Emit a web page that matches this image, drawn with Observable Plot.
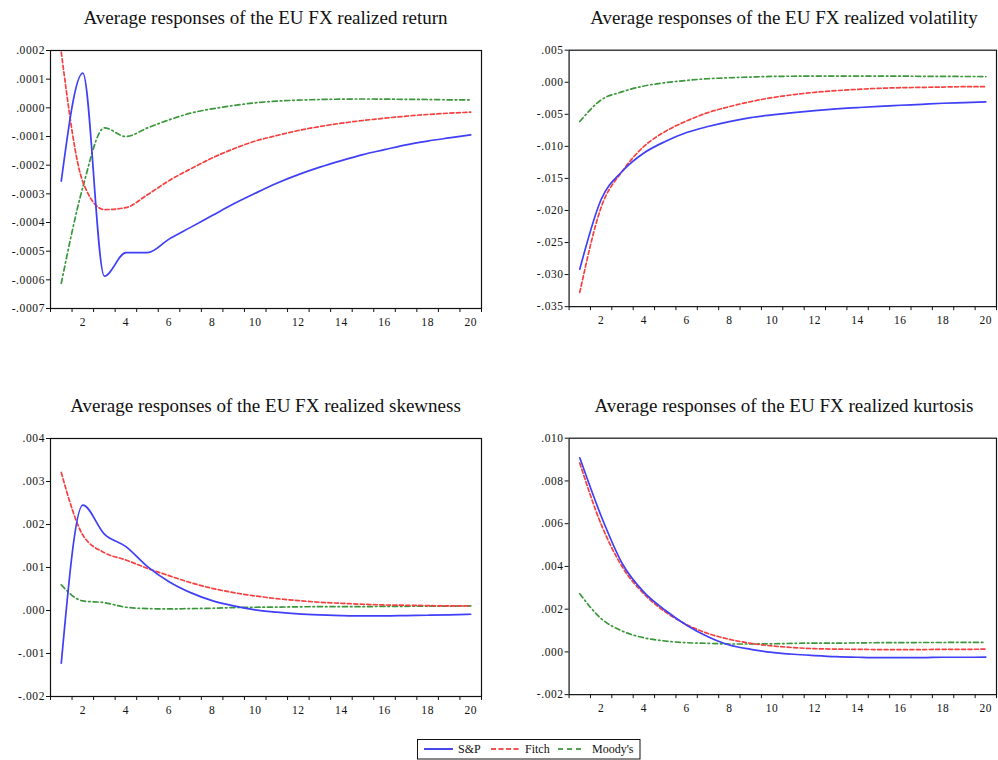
<!DOCTYPE html>
<html>
<head>
<meta charset="utf-8">
<script src="https://cdn.jsdelivr.net/npm/d3@7"></script>
<script src="https://cdn.jsdelivr.net/npm/@observablehq/plot@0.6"></script>
<style>
  html, body { margin: 0; padding: 0; background: #fff; }
  body { width: 998px; height: 760px; overflow: hidden; position: relative; font-family: "Liberation Serif", "Times New Roman", serif; }
  .panel { position: absolute; }
  .title { position: absolute; text-align: center; font-size: 19px; line-height: 19px; color: #111; white-space: nowrap; }
  #legend { position: absolute; }
</style>
</head>
<body>
<script>
// ---- data ----
const horizon = [1,2,3,4,5,6,7,8,9,10,11,12,13,14,15,16,17,18,19,20];
const agencies = ["S&P", "Fitch", "Moody's"];

const retSP    = [-0.000256, 0.000121, -0.000587, -0.000505, -0.000505, -0.000458, -0.000417, -0.000376, -0.000335, -0.000298, -0.000263, -0.000233, -0.000207, -0.000184, -0.000163, -0.000146, -0.000129, -0.000116, -0.000105, -0.0000943];
const retFitch = [0.000194, -0.000258, -0.000355, -0.000348, -0.000303, -0.000254, -0.000213, -0.000175, -0.000143, -0.000116, -0.0000966, -0.0000792, -0.0000652, -0.0000536, -0.0000442, -0.0000361, -0.0000291, -0.0000233, -0.0000186, -0.0000151];
const retMoody = [-0.000612, -0.000277, -0.000070, -0.000100, -0.000070, -0.000042, -0.0000186, -0.0000035, 0.0000081, 0.0000175, 0.0000233, 0.0000268, 0.0000291, 0.0000303, 0.0000309, 0.0000303, 0.0000297, 0.0000291, 0.0000280, 0.0000280];

const volSP    = [-0.02916, -0.01829, -0.01385, -0.01104, -0.00923, -0.00784, -0.00690, -0.00613, -0.00551, -0.00509, -0.00473, -0.00442, -0.00416, -0.00395, -0.00375, -0.00359, -0.00344, -0.00328, -0.00318, -0.00307];
const volFitch = [-0.03278, -0.01950, -0.01385, -0.01001, -0.00768, -0.00603, -0.00473, -0.00380, -0.00302, -0.00240, -0.00194, -0.00157, -0.00131, -0.00111, -0.00095, -0.00085, -0.00080, -0.00075, -0.00069, -0.00069];
const volMoody = [-0.00613, -0.00276, -0.00147, -0.00059, -0.00007, 0.00029, 0.00055, 0.00070, 0.00081, 0.00091, 0.00094, 0.00096, 0.00097, 0.00097, 0.00096, 0.00095, 0.00093, 0.00091, 0.00090, 0.00089];

const skSP    = [-0.001225, 0.00245, 0.001778, 0.001484, 0.00102, 0.00067, 0.000416, 0.00023, 0.000106, 0.000013, -0.00004, -0.00008, -0.000103, -0.000118, -0.000126, -0.000126, -0.000118, -0.00011, -0.000103, -0.000087];
const skFitch = [0.00321, 0.001755, 0.001345, 0.001174, 0.00098, 0.00081, 0.000648, 0.000516, 0.000416, 0.000338, 0.000276, 0.00023, 0.000191, 0.000168, 0.000145, 0.000129, 0.000122, 0.000114, 0.000106, 0.000106];
const skMoody = [0.000594, 0.000222, 0.000183, 0.000075, 0.000044, 0.000036, 0.000044, 0.000052, 0.000067, 0.000075, 0.00008, 0.000085, 0.00009, 0.00009, 0.00009, 0.000095, 0.000098, 0.0001, 0.000103, 0.000106];

const kuSP    = [0.009084, 0.00636, 0.004115, 0.0028, 0.00195, 0.00125, 0.00071, 0.00032, 0.00012, -0.00002, -0.00011, -0.00017, -0.00022, -0.00025, -0.00027, -0.00027, -0.00027, -0.00025, -0.00025, -0.00024];
const kuFitch = [0.008836, 0.00597, 0.00396, 0.00272, 0.00187, 0.00128, 0.00086, 0.00059, 0.0004, 0.00028, 0.0002, 0.00015, 0.00013, 0.00012, 0.00011, 0.00011, 0.00011, 0.00012, 0.00012, 0.00013];
const kuMoody = [0.00272, 0.00156, 0.00097, 0.00066, 0.00051, 0.00043, 0.0004, 0.00037, 0.00037, 0.00038, 0.0004, 0.00041, 0.00041, 0.00042, 0.00043, 0.00043, 0.00044, 0.00044, 0.00045, 0.00045];

const titles = [
  "Average responses of the EU FX realized return",
  "Average responses of the EU FX realized volatility",
  "Average responses of the EU FX realized skewness",
  "Average responses of the EU FX realized kurtosis"
];
const yTicksRet  = [-0.0007, -0.0006, -0.0005, -0.0004, -0.0003, -0.0002, -0.0001, 0, 0.0001, 0.0002];
const yTicksVol  = [-0.035, -0.030, -0.025, -0.020, -0.015, -0.010, -0.005, 0, 0.005];
const yTicksSkew = [-0.002, -0.001, 0, 0.001, 0.002, 0.003, 0.004];
const yTicksKurt = [-0.002, 0, 0.002, 0.004, 0.006, 0.008, 0.010];
const xLabelTicks = [2,4,6,8,10,12,14,16,18,20];
const xMarkTicks = [0.5,1.5,2.5,3.5,4.5,5.5,6.5,7.5,8.5,9.5,10.5,11.5,12.5,13.5,14.5,15.5,16.5,17.5,18.5,19.5,20.5];

// ---- styles ----
const lineColor = {"S&P": "#3f3ff7", "Fitch": "#f73f3f", "Moody's": "#3a973a"};
const legendColor = {"S&P": "#1a1ae6", "Fitch": "#f01a1a", "Moody's": "#1a851a"};
const dash = {"S&P": null, "Fitch": "4,2.5", "Moody's": "5,3,1.5,3"};

function fmt(decimals) {
  return v => (v < -1e-12 ? "-" : "") + Math.abs(v).toFixed(decimals).replace(/^0/, "");
}

function tableOf(s1, s2, s3) {
  const out = [];
  [s1, s2, s3].forEach((s, i) => s.forEach((v, j) => out.push({h: horizon[j], v, a: agencies[i]})));
  return out;
}

const panels = [
  {series: tableOf(retSP, retFitch, retMoody), ticks: yTicksRet, dec: 4, left: 0, top: 0, width: 499, ml: 50, mr: 18},
  {series: tableOf(volSP, volFitch, volMoody), ticks: yTicksVol, dec: 3, left: 499, top: 0, width: 502, ml: 70, mr: 2},
  {series: tableOf(skSP, skFitch, skMoody), ticks: yTicksSkew, dec: 3, left: 0, top: 388, width: 499, ml: 50, mr: 18},
  {series: tableOf(kuSP, kuFitch, kuMoody), ticks: yTicksKurt, dec: 3, left: 499, top: 388, width: 502, ml: 70, mr: 2}
];

panels.forEach((p, i) => {
  const div = document.createElement("div");
  div.className = "panel";
  div.style.left = p.left + "px";
  div.style.top = p.top + "px";
  const chart = Plot.plot({
    width: p.width,
    height: 340,
    marginLeft: p.ml,
    marginRight: p.mr,
    marginTop: 50,
    marginBottom: 32,
    style: {fontFamily: "Liberation Serif, serif", fontSize: "11.5px", letterSpacing: "0.6px", color: "#111", background: "transparent", overflow: "visible"},
    x: {domain: [0.5, 20.5]},
    y: {domain: [p.ticks[0], p.ticks[p.ticks.length - 1]]},
    marks: [
      Plot.axisY({ticks: p.ticks, tickSize: 4, tickPadding: 1.5, tickFormat: fmt(p.dec), label: null}),
      Plot.axisX({ticks: xMarkTicks, tickSize: 4, tickFormat: () => "", label: null}),
      Plot.axisX({ticks: xLabelTicks, tickSize: 0, tickPadding: 9, tickFormat: d => String(d), label: null}),
      ...agencies.slice().reverse().map(a =>
        Plot.lineY(p.series.filter(d => d.a === a), {
          x: "h", y: "v", stroke: lineColor[a], strokeWidth: 1.7,
          strokeDasharray: dash[a], curve: "monotone-x"
        })
      ),
      Plot.frame({stroke: "#111", strokeWidth: 1.2})
    ]
  });
  div.appendChild(chart);
  document.body.appendChild(div);

  const t = document.createElement("div");
  t.className = "title";
  const frameLeft = p.left + p.ml;
  const frameWidth = p.width - p.ml - p.mr;
  t.style.left = frameLeft + "px";
  t.style.width = frameWidth + "px";
  t.style.top = (p.top + 8) + "px";
  t.textContent = titles[i];
  document.body.appendChild(t);
});

// ---- legend ----
const leg = d3.select("body").append("svg")
  .attr("id", "legend")
  .attr("width", 224).attr("height", 21)
  .style("left", "417px").style("top", "739px")
  .style("font-family", "Liberation Serif, serif").style("font-size", "12px");
leg.append("rect").attr("x", 0.5).attr("y", 0.5).attr("width", 222.5).attr("height", 19.5)
  .attr("fill", "white").attr("stroke", "#111");
const legPos = [{x0: 7, x1: 36, tx: 41}, {x0: 74, x1: 102, tx: 108}, {x0: 141, x1: 165, tx: 175}];
agencies.forEach((a, i) => {
  leg.append("line").attr("x1", legPos[i].x0).attr("x2", legPos[i].x1).attr("y1", 10).attr("y2", 10)
    .attr("stroke", legendColor[a]).attr("stroke-width", 1.6).attr("stroke-dasharray", a === "Fitch" ? "5,2.5" : a === "Moody's" ? "5,4" : null);
  leg.append("text").attr("x", legPos[i].tx).attr("y", 14).attr("fill", "#111").text(a);
});
</script>
</body>
</html>
